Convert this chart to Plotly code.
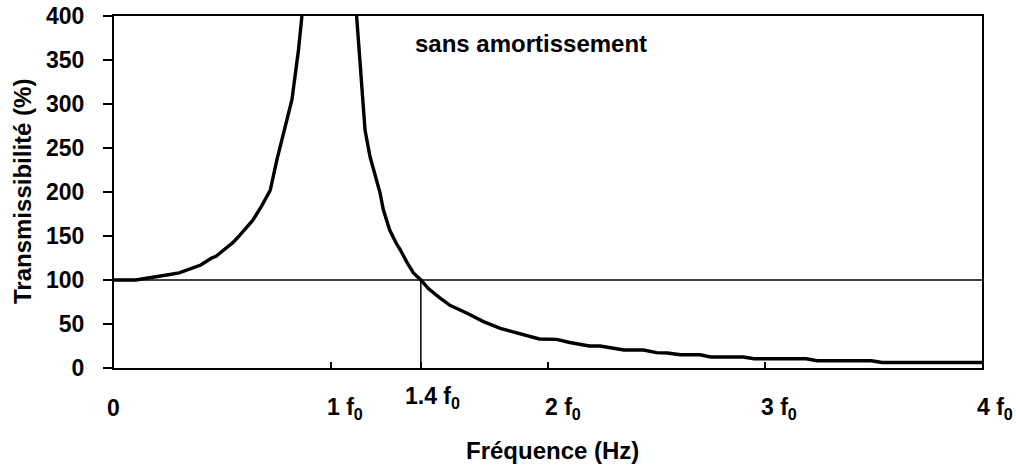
import plotly.graph_objects as go

# Frequency ratio (f / f0) and transmissibility (%)
x_left = [0.00, 0.05, 0.10, 0.15, 0.21, 0.25, 0.30, 0.35, 0.40, 0.45, 0.47, 0.50,
          0.55, 0.58, 0.64, 0.68, 0.72, 0.75, 0.80, 0.82, 0.85, 0.866]
t_left = [100, 100, 100, 102, 104, 106, 108, 112, 117, 125, 127, 133,
          143, 151, 168, 184, 202, 236, 285, 305, 361, 400]

x_right = [1.118, 1.134, 1.157, 1.18, 1.21, 1.226, 1.241, 1.27, 1.30, 1.32, 1.35, 1.38,
           1.414, 1.45, 1.50, 1.55, 1.63, 1.70, 1.78, 1.84, 1.90, 1.96, 2.04, 2.10,
           2.19, 2.24, 2.35, 2.44, 2.50, 2.55, 2.61, 2.70, 2.75, 2.90, 2.95, 3.19,
           3.24, 3.49, 3.54, 4.00]
t_right = [400, 342, 270, 240, 214, 199, 180, 157, 142, 134, 120, 108,
           100, 90, 80, 71, 62, 53, 45, 41, 38, 33, 32.5, 29,
           25, 25, 20.5, 20.5, 17.5, 17, 15, 15, 12.5, 12.5, 10.5, 10.5,
           8.3, 8.3, 6.3, 6.3]

ref_level = 100          # horizontal reference line (%)
cross_x = 1.414          # crossing frequency ratio (sqrt 2)

tick_vals = [0, 1, 1.414, 2, 3, 4]
tick_text = ["0", "1 f<sub>0</sub>", "1.4 f<sub>0</sub>", "2 f<sub>0</sub>", "3 f<sub>0</sub>", "4 f<sub>0</sub>"]

FONT = "Arial, Liberation Sans, sans-serif"

curve_x = x_left + [None] + x_right
curve_y = t_left + [None] + t_right

fig = go.Figure()
fig.add_trace(go.Scatter(x=[0, 4], y=[ref_level, ref_level], mode="lines",
                         line=dict(color="black", width=1.5), hoverinfo="skip",
                         showlegend=False))
fig.add_trace(go.Scatter(x=[cross_x, cross_x], y=[0, ref_level], mode="lines",
                         line=dict(color="black", width=1.5), hoverinfo="skip",
                         showlegend=False))
fig.add_trace(go.Scatter(x=curve_x, y=curve_y, mode="lines",
                         line=dict(color="black", width=3.4), connectgaps=False,
                         showlegend=False))

# tick label placement (left-edge shift in px, vertical shift in px)
label_xshift = [-9, -6, -18, -5, -6, -7]
label_yshift = [-40, -40, -29, -40, -40, -40]
for v, t, dx, dy in zip(tick_vals, tick_text, label_xshift, label_yshift):
    fig.add_annotation(x=v, y=0, xref="x", yref="paper", text=t, showarrow=False,
                       xanchor="left", yanchor="middle", xshift=dx, yshift=dy,
                       font=dict(family=FONT, size=23, color="black", weight="bold"))

fig.add_annotation(x=0.5, y=0, xref="paper", yref="paper", text="Fréquence (Hz)",
                   showarrow=False, xanchor="center", yanchor="middle", xshift=4, yshift=-82,
                   font=dict(family=FONT, size=24, color="black", weight="bold"))
fig.add_annotation(x=0, y=0.5, xref="paper", yref="paper", text="Transmissibilité (%)",
                   showarrow=False, textangle=-90, xanchor="center", yanchor="middle",
                   xshift=-92, font=dict(family=FONT, size=24, color="black", weight="bold"))
fig.add_annotation(x=1.38, y=369, xref="x", yref="y", text="sans amortissement",
                   showarrow=False, xanchor="left", yanchor="middle",
                   font=dict(family=FONT, size=24, color="black", weight="bold"))

fig.update_xaxes(range=[0, 4], tickvals=tick_vals, showticklabels=False,
                 ticks="inside", ticklen=6, tickwidth=2, tickcolor="black",
                 showline=True, linecolor="black", linewidth=2, mirror=True,
                 showgrid=False, zeroline=False, automargin=False)
fig.update_yaxes(range=[0, 400], dtick=50, tick0=0, ticks="outside", ticklen=9,
                 tickwidth=2, tickcolor="black", ticklabelstandoff=14,
                 tickfont=dict(family=FONT, size=23, color="black", weight="bold"),
                 showline=True, linecolor="black", linewidth=2, mirror=True,
                 showgrid=False, zeroline=False, automargin=False)

fig.update_layout(width=1016, height=465, margin=dict(l=114, r=34, t=16, b=97),
                  plot_bgcolor="white", paper_bgcolor="white",
                  font=dict(family=FONT, color="black"))

fig.write_html("out.html", config={"displayModeBar": False},
               post_script="document.body.style.margin='0';document.body.style.overflow='hidden';")
